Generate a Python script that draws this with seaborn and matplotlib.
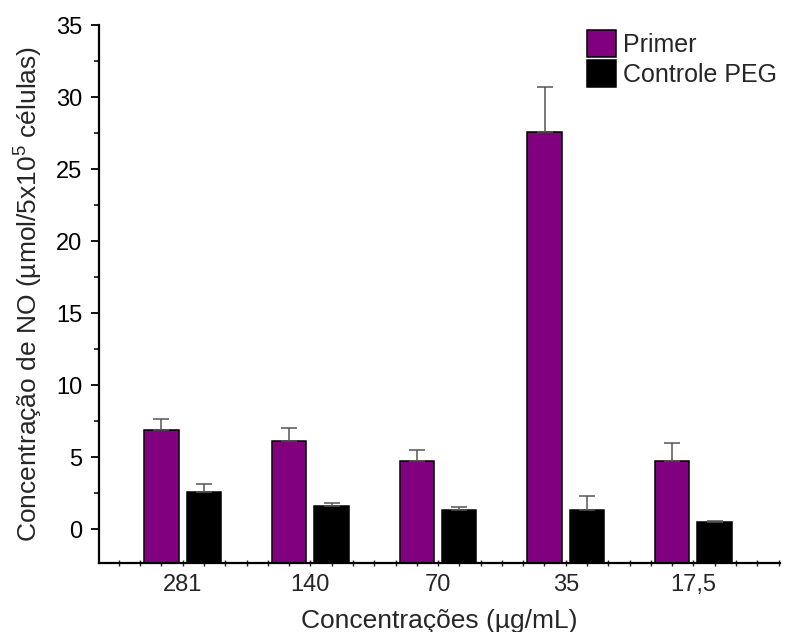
import numpy as np
import pandas as pd
import matplotlib
matplotlib.use("Agg")
import matplotlib.pyplot as plt
from matplotlib.ticker import MultipleLocator
import seaborn as sns

# Concentrations tested and nitric oxide production (mean and SD)
concentracoes = ["281", "140", "70", "35", "17,5"]
grupos = ["Primer", "Controle PEG"]
primer_media = [6.9, 6.15, 4.7, 27.6, 4.7]
primer_dp = [0.75, 0.9, 0.8, 3.1, 1.25]
peg_media = [2.55, 1.6, 1.3, 1.3, 0.5]
peg_dp = [0.6, 0.25, 0.25, 1.0, 0.05]

df = pd.DataFrame({
    "conc": concentracoes * 2,
    "grupo": [grupos[0]] * len(concentracoes) + [grupos[1]] * len(concentracoes),
    "valor": primer_media + peg_media,
})

sns.set_style("ticks")
plt.rcParams["font.family"] = ["Liberation Sans", "DejaVu Sans"]
plt.rcParams["mathtext.default"] = "regular"

fig = plt.figure(figsize=(7.85, 6.32), dpi=100)
ax = fig.add_axes([0.126, 0.109, 0.868, 0.851])

cores = {"Primer": "#800080", "Controle PEG": "#000000"}
sns.barplot(data=df, x="conc", y="valor", hue="grupo", order=concentracoes,
            hue_order=grupos, palette=cores, width=0.664, gap=0.19,
            errorbar=None, edgecolor="black", linewidth=1.1,
            saturation=1, ax=ax)

ymin, ymax = -2.36, 35
# bars rise from the bottom of the frame
for cont, dp in zip(ax.containers, [primer_dp, peg_dp]):
    xs, ys = [], []
    for p in cont.patches:
        h = p.get_height()
        p.set_y(ymin)
        p.set_height(h - ymin)
        xs.append(p.get_x() + p.get_width() / 2)
        ys.append(h)
    ax.errorbar(xs, ys, yerr=[np.zeros(len(dp)), dp], fmt="none",
                ecolor="#555555", elinewidth=1.1, capsize=5.5, capthick=1.1,
                zorder=1)

ax.set_ylim(ymin, ymax)
ax.set_xlim(-0.656, 4.68)
ax.yaxis.set_major_locator(MultipleLocator(5))
ax.yaxis.set_minor_locator(MultipleLocator(2.5))
ax.xaxis.set_minor_locator(MultipleLocator(1 / 6))

for s in ["top", "right"]:
    ax.spines[s].set_visible(False)
for s in ["left", "bottom"]:
    ax.spines[s].set_linewidth(1.6)
    ax.spines[s].set_color("black")

ax.tick_params(axis="y", which="major", direction="out", length=6, width=1.3,
               labelsize=17, pad=6, colors="black")
ax.tick_params(axis="y", which="minor", direction="out", length=3.5, width=1.3)
ax.tick_params(axis="x", which="major", direction="inout", length=5, width=1.0,
               labelsize=17, pad=5)
ax.tick_params(axis="x", which="minor", direction="inout", length=5, width=1.0)

ax.set_xlabel("Concentrações (µg/mL)", fontsize=19, labelpad=10)
ax.set_ylabel("Concentração de NO (µmol/5x10$^{5}$ células)", fontsize=19,
              labelpad=8)

handles, labels = ax.get_legend_handles_labels()
ax.legend(handles, labels, loc="upper left", bbox_to_anchor=(587 / 785, 1 - 30 / 632),
          bbox_transform=fig.transFigure, frameon=False, fontsize=18,
          handlelength=1.15, handleheight=1.3, handletextpad=0.3,
          labelspacing=0.1, borderpad=0, borderaxespad=0)

fig.savefig("out.png", dpi=100)
